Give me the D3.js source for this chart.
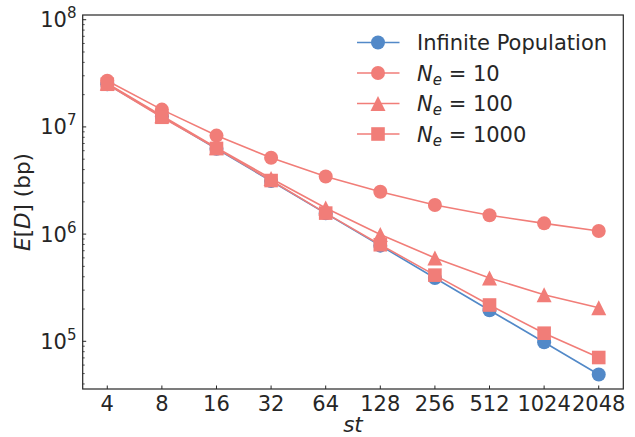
<!DOCTYPE html>
<html><head><meta charset="utf-8">
<script src="https://cdn.jsdelivr.net/npm/d3@7"></script>
<style>body{margin:0;background:#fff}svg{display:block}</style></head>
<body>
<svg id="c" width="635" height="437"></svg>
<script>
// ---- data ----
const stValues = [4, 8, 16, 32, 64, 128, 256, 512, 1024, 2048];
const xTickLabels = ["4", "8", "16", "32", "64", "128", "256", "512", "1024", "2048"];
const infinitePop = [2.5e7, 1.25e7, 6.25e6, 3.125e6, 1.5625e6, 7.8e5, 3.9e5, 1.95e5, 9.8e4, 4.9e4];
const ne10 = [2.7e7, 1.45e7, 8.3e6, 5.15e6, 3.45e6, 2.48e6, 1.87e6, 1.5e6, 1.26e6, 1.07e6];
const ne100 = [2.55e7, 1.27e7, 6.4e6, 3.3e6, 1.75e6, 9.9e5, 6.0e5, 3.9e5, 2.72e5, 2.06e5];
const ne1000 = [2.5e7, 1.23e7, 6.3e6, 3.16e6, 1.57e6, 7.96e5, 4.14e5, 2.18e5, 1.19e5, 7.06e4];
const neLabels = ["10", "100", "1000"];
const yTickExponents = [5, 6, 7, 8];

// ---- styling ----
const BLUE = "#5289c8", RED = "#f17d78", INK = "#262626";
const FONT = "'DejaVu Sans', sans-serif";
const series = [
  {values: infinitePop, color: BLUE, marker: "circle", label: null},
  {values: ne10, color: RED, marker: "circle", label: neLabels[0]},
  {values: ne100, color: RED, marker: "triangle", label: neLabels[1]},
  {values: ne1000, color: RED, marker: "square", label: neLabels[2]}
];

const L = 82.7, R = 623.3, T = 15, B = 389;
const x = d3.scaleLog().base(2).domain([Math.pow(2, 1.55), Math.pow(2, 11.45)]).range([L, R]);
const y = d3.scaleLog().domain([Math.pow(10, 4.555), Math.pow(10, 8.044)]).range([B, T]);

const svg = d3.select("#c");

function markerPath(type) {
  if (type === "circle") return d3.symbol().type(d3.symbolCircle).size(Math.PI * 7 * 7)();
  if (type === "square") { const s = 6.8; return `M${-s},${-s}H${s}V${s}H${-s}Z`; }
  const h = 7.5; return `M0,${-h}L${h},${h}L${-h},${h}Z`;
}

// ---- series ----
const line = d3.line().x((d, i) => x(stValues[i])).y(d => y(d));
series.forEach(s => {
  const g = svg.append("g");
  g.append("path").attr("d", line(s.values)).attr("fill", "none")
    .attr("stroke", s.color).attr("stroke-width", 1.6);
  g.selectAll("path.m").data(s.values).enter().append("path").attr("class", "m")
    .attr("d", markerPath(s.marker))
    .attr("transform", (d, i) => `translate(${x(stValues[i])},${y(d)})`)
    .attr("fill", s.color);
});

// ---- axes frame ----
svg.append("rect").attr("x", L).attr("y", T).attr("width", R - L).attr("height", B - T)
  .attr("fill", "none").attr("stroke", INK).attr("stroke-width", 1.2);

// x ticks (inward)
const xg = svg.append("g");
stValues.forEach((v, i) => {
  xg.append("line").attr("x1", x(v)).attr("x2", x(v)).attr("y1", B).attr("y2", B - 3.5)
    .attr("stroke", INK).attr("stroke-width", 1);
  xg.append("text").attr("x", x(v)).attr("y", 410.5).attr("text-anchor", "middle")
    .attr("font-family", FONT).attr("font-size", 21).attr("fill", INK).text(xTickLabels[i]);
});

// y ticks (inward), major + minor
const yg = svg.append("g");
const [d0, d1] = y.domain();
for (let e = Math.floor(Math.log10(d0)); e <= Math.ceil(Math.log10(d1)); e++) {
  for (let m = 1; m <= 9; m++) {
    const v = m * Math.pow(10, e);
    if (v < d0 || v > d1) continue;
    yg.append("line").attr("x1", L).attr("x2", L + (m === 1 ? 3.5 : 2))
      .attr("y1", y(v)).attr("y2", y(v)).attr("stroke", INK).attr("stroke-width", m === 1 ? 1 : 0.8);
  }
}
yTickExponents.forEach(e => {
  const t = yg.append("text").attr("x", 76.5).attr("y", y(Math.pow(10, e)) + 7.5)
    .attr("text-anchor", "end").attr("font-family", FONT).attr("font-size", 21).attr("fill", INK);
  t.append("tspan").text("10");
  t.append("tspan").attr("dy", -9).attr("font-size", 15).text(String(e));
});

// axis labels
svg.append("text").attr("x", (L + R) / 2).attr("y", 432).attr("text-anchor", "middle")
  .attr("font-family", FONT).attr("font-size", 21.5).attr("fill", INK)
  .attr("font-style", "italic").text("st");

const yl = svg.append("text").attr("transform", `translate(30,${(T + B) / 2}) rotate(-90)`)
  .attr("text-anchor", "middle").attr("font-family", FONT).attr("font-size", 21.5).attr("fill", INK);
yl.append("tspan").attr("font-style", "italic").text("E");
yl.append("tspan").text("[");
yl.append("tspan").attr("font-style", "italic").text("D");
yl.append("tspan").text("] (bp)");

// ---- legend ----
const lg = svg.append("g");
const rowY = [42.5, 73, 103.5, 134];
series.forEach((s, i) => {
  const yy = rowY[i];
  lg.append("line").attr("x1", 357).attr("x2", 399.5).attr("y1", yy).attr("y2", yy)
    .attr("stroke", s.color).attr("stroke-width", 1.6);
  lg.append("path").attr("d", markerPath(s.marker)).attr("transform", `translate(378,${yy})`)
    .attr("fill", s.color);
  const t = lg.append("text").attr("x", 417).attr("y", yy + 7.5)
    .attr("font-family", FONT).attr("font-size", 21).attr("fill", INK);
  if (s.label === null) {
    t.text("Infinite Population");
  } else {
    t.append("tspan").attr("font-style", "italic").text("N");
    t.append("tspan").attr("font-style", "italic").attr("font-size", 15).attr("dy", 4).text("e");
    t.append("tspan").attr("dy", -4).text(" = " + s.label);
  }
});
</script>
</body></html>
